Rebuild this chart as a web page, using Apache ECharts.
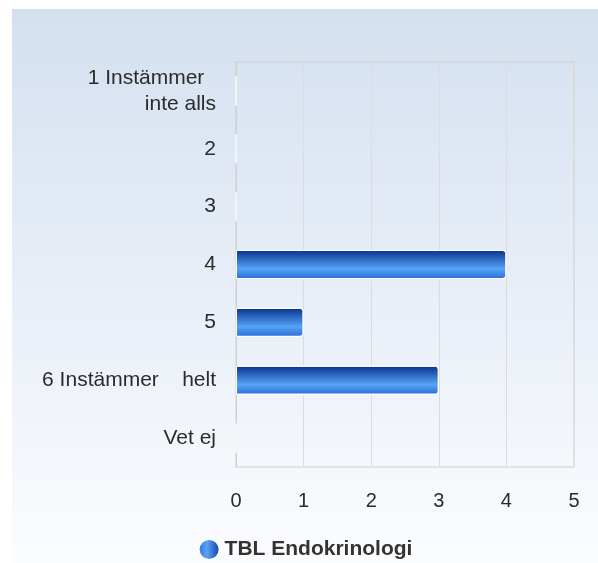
<!DOCTYPE html>
<html>
<head>
<meta charset="utf-8">
<script src="https://cdn.jsdelivr.net/npm/echarts@6/dist/echarts.min.js"></script>
<style>
    html, body { margin: 0; padding: 0; background: #fff; }
    #chart {
        position: absolute;
        left: 12px;
        top: 9px;
        width: 586px;
        height: 554px;
    }
</style>
</head>
<body>
<div id="chart"></div>
<script>
    // categories top to bottom
    var categories = ['1 Instämmer  \ninte alls', '2', '3', '4', '5', '6 Instämmer    helt', 'Vet ej'];
    var values = [0, 0, 0, 4, 1, 3, 0];
    var seriesName = 'TBL Endokrinologi';
    var xTicks = [0, 1, 2, 3, 4, 5];

    var barFill = new echarts.graphic.LinearGradient(0, 0, 0, 1, [
        { offset: 0, color: '#08308a' },
        { offset: 0.65, color: '#55a4f8' },
        { offset: 1, color: '#2a6bd4' }
    ]);
    var legendFill = new echarts.graphic.LinearGradient(0, 0, 1, 0, [
        { offset: 0, color: '#2f70da' },
        { offset: 0.4, color: '#5aa2f5' },
        { offset: 1, color: '#0c3a9e' }
    ]);

    var chart = echarts.init(document.getElementById('chart'));
    chart.setOption({
        backgroundColor: new echarts.graphic.LinearGradient(0, 0, 0, 1, [
            { offset: 0, color: '#d4e0f0' },
            { offset: 1, color: '#fbfcfe' }
        ]),
        textStyle: { fontFamily: 'Liberation Sans, Arial, sans-serif' },
        grid: {
            left: 224,
            right: 24,
            top: 53,
            bottom: 96,
            show: true,
            borderColor: '#cfcfcf',
            borderWidth: 1
        },
        legend: {
            top: 529,
            left: 'center',
            padding: 0,
            icon: 'circle',
            itemWidth: 21,
            itemHeight: 21,
            itemGap: 6,
            textStyle: { fontSize: 21, fontWeight: 'bold', color: '#333' },
            data: [{ name: seriesName, itemStyle: { color: legendFill } }]
        },
        xAxis: {
            type: 'value',
            min: xTicks[0],
            max: xTicks[xTicks.length - 1],
            interval: 1,
            axisLine: { show: false },
            axisTick: { show: false },
            splitLine: { lineStyle: { color: '#dcdcdc' } },
            axisLabel: { fontSize: 20, color: '#2b2b2b', margin: 24 }
        },
        yAxis: {
            type: 'category',
            inverse: true,
            data: categories,
            axisLine: { show: true, lineStyle: { color: '#cfcfcf' } },
            axisTick: { show: false },
            axisLabel: {
                fontSize: 21, color: '#2b2b2b', margin: 20, lineHeight: 26,
                align: 'right', padding: [5, 0, 0, 0]
            }
        },
        series: [{
            name: seriesName,
            type: 'bar',
            data: values,
            barWidth: 29,
            itemStyle: {
                color: barFill,
                borderColor: '#ffffff',
                borderWidth: 1,
                borderRadius: [0, 3, 3, 0]
            }
        }]
    });
</script>
</body>
</html>
